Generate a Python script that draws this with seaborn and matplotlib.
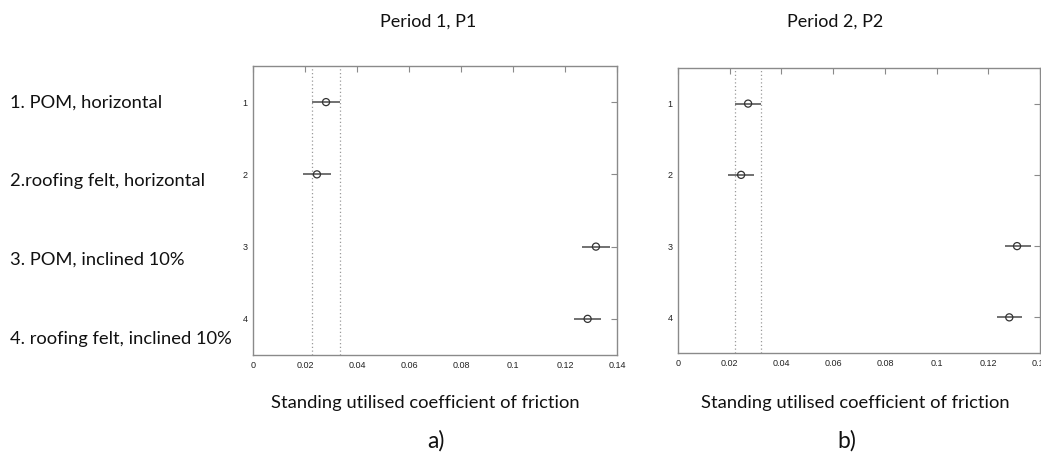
"""
Multiple-comparison plot of standing utilised coefficient of friction,
two periods side by side (MATLAB multcompare look).
"""
import numpy as np
import pandas as pd
import seaborn as sns
import matplotlib.pyplot as plt

# group ids on the y axis and their descriptions
GROUPS = [1, 2, 3, 4]
GROUP_LABELS = [
    '1. POM, horizontal',
    '2.roofing felt, horizontal',
    '3. POM, inclined 10%',
    '4. roofing felt, inclined 10%',
]

# period 1: group means and comparison interval ends
P1_MEAN = [0.0281, 0.0246, 0.1319, 0.1287]
P1_LOW = [0.0227, 0.0194, 0.1267, 0.1235]
P1_HIGH = [0.0333, 0.0299, 0.1372, 0.1340]

# period 2
P2_MEAN = [0.0271, 0.0244, 0.1311, 0.1281]
P2_LOW = [0.0222, 0.0193, 0.1263, 0.1232]
P2_HIGH = [0.0321, 0.0293, 0.1364, 0.1331]

PERIODS = ['Period 1, P1', 'Period 2, P2']
PANEL_TAGS = ['a)', 'b)']

X_TICKS = [0, 0.02, 0.04, 0.06, 0.08, 0.1, 0.12, 0.14]
X_TICK_LABELS = ['0', '0.02', '0.04', '0.06', '0.08', '0.1', '0.12', '0.14']


def build_frame():
    rows = []
    for period, mean, low, high in [
        (PERIODS[0], P1_MEAN, P1_LOW, P1_HIGH),
        (PERIODS[1], P2_MEAN, P2_LOW, P2_HIGH),
    ]:
        for g, m, lo, hi in zip(GROUPS, mean, low, high):
            rows.append({'period': period, 'group': g, 'mean': m, 'low': lo, 'high': hi})
    return pd.DataFrame(rows)


def main():
    df = build_frame()

    sns.set_theme(style='white')
    plt.rcParams['font.family'] = ['Lato', 'DejaVu Sans']

    fig = plt.figure(figsize=(10.41, 4.55), dpi=100)
    boxes = [
        [0.243, 0.2198, 0.3497, 0.6352],
        [0.6513, 0.2242, 0.3478, 0.6264],
    ]
    title_x = [0.411, 0.802]
    xlabel_x = [0.409, 0.822]
    tag_x = [0.419, 0.813]

    frame_col = '#8a8a8a'

    for i, period in enumerate(PERIODS):
        ax = fig.add_axes(boxes[i])
        sub = df[df['period'] == period]

        # reference interval of group 1 as dotted verticals
        ref = sub[sub['group'] == 1].iloc[0]
        for xv in (ref['low'], ref['high']):
            ax.axvline(xv, color='#9a9a9a', lw=0.9, ls=(0, (1, 2)), zorder=1)

        ax.hlines(sub['group'], sub['low'], sub['high'], color='#4a4a4a', lw=1.1, zorder=2)
        sns.scatterplot(data=sub, x='mean', y='group', ax=ax, marker='o', s=26,
                        facecolor='none', edgecolor='#333333', linewidth=0.9,
                        zorder=3, legend=False)

        ax.set_xlim(0, 0.14)
        ax.set_ylim(4.5, 0.5)
        ax.set_xticks(X_TICKS)
        ax.set_xticklabels(X_TICK_LABELS)
        ax.set_yticks(GROUPS)
        ax.set_yticklabels([str(g) for g in GROUPS])
        ax.set_xlabel('')
        ax.set_ylabel('')

        ax.tick_params(direction='in', length=4, width=0.8, color=frame_col,
                       top=True, right=True, labelsize=6.5, labelcolor='#222222', pad=4)
        for lab in ax.get_xticklabels() + ax.get_yticklabels():
            lab.set_fontfamily(['Liberation Sans', 'DejaVu Sans'])
        for sp in ax.spines.values():
            sp.set_color(frame_col)
            sp.set_linewidth(1.0)
            sp.set_visible(True)

        fig.text(title_x[i], 1 - 22 / 455, period, ha='center', va='center',
                 fontsize=13, color='#111111')
        fig.text(xlabel_x[i], 1 - 403 / 455, 'Standing utilised coefficient of friction',
                 ha='center', va='center', fontsize=13.2, color='#111111')
        fig.text(tag_x[i], 1 - 441 / 455, PANEL_TAGS[i], ha='center', va='center',
                 fontsize=16.5, color='#111111')

    label_y = [103, 181, 260, 339]
    for lab, yp in zip(GROUP_LABELS, label_y):
        fig.text(10 / 1041, 1 - yp / 455, lab, ha='left', va='center',
                 fontsize=13.2, color='#111111')

    fig.savefig('out.png', dpi=100, facecolor='white')
    plt.close(fig)


if __name__ == '__main__':
    main()
